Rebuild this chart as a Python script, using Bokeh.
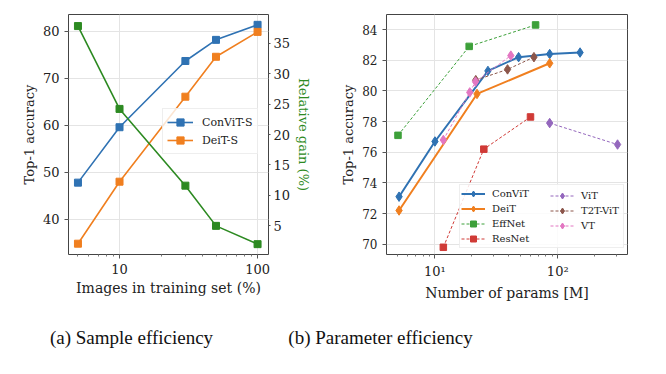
import math
from bokeh.plotting import figure
from bokeh.models import (Range1d, LinearAxis, Legend, LegendItem, SingleIntervalTicker,
                          FixedTicker, CustomJSTickFormatter, Label)
from bokeh.layouts import row, column
from bokeh.embed import file_html
from bokeh.resources import INLINE

# ---------------- data: (a) sample efficiency ----------------
train_frac = [5, 10, 30, 50, 100]
convit_s_acc = [47.8, 59.6, 73.7, 78.2, 81.4]
deit_s_acc = [34.8, 48.0, 66.1, 74.6, 79.9]
relative_gain = [37.8, 24.2, 11.6, 5.0, 2.0]

# ---------------- data: (b) parameter efficiency ----------------
convit_params = [5.1, 10, 27, 48, 86, 152]
convit_acc = [73.1, 76.7, 81.3, 82.2, 82.4, 82.5]
deit_params = [5.1, 22, 86]
deit_acc = [72.2, 79.8, 81.8]
effnet_params = [5.0, 19, 66]
effnet_acc = [77.1, 82.9, 84.3]
resnet_params = [11.7, 25, 60]
resnet_acc = [69.8, 76.2, 78.3]
vit_params = [86, 307]
vit_acc = [77.9, 76.5]
t2t_params = [21.5, 39, 64]
t2t_acc = [80.7, 81.4, 82.2]
vt_params = [11.7, 19.2, 21.4, 41.5]
vt_acc = [76.8, 79.9, 80.6, 82.3]

log_major_ticks = [10, 100]
captions = ["(a) Sample efficiency", "(b) Parameter efficiency"]

FONT = "'DejaVu Serif', serif"
CAP_FONT = "'Liberation Serif', serif"
BLUE = "#2f72b3"
ORANGE = "#f07f1f"
GREEN_DARK = "#2d8a22"
GREEN = "#3da03a"
RED = "#d03a36"
PURPLE = "#9467bd"
BROWN = "#8c564b"
PINK = "#e377c2"
FRAME = "#444444"
GRID = "#e4e4e4"

minor_ticks = [m * 10 ** k for k in range(0, 3) for m in range(2, 10)]


def style_axis(ax, label_size="13px", tick_size="13px"):
    ax.axis_label_text_font = FONT
    ax.axis_label_text_font_style = "normal"
    ax.axis_label_text_font_size = label_size
    ax.axis_label_text_color = "#222222"
    ax.major_label_text_font = FONT
    ax.major_label_text_font_size = tick_size
    ax.major_label_text_color = "#222222"
    ax.axis_line_color = None
    ax.major_tick_line_color = "#555555"
    ax.minor_tick_line_color = "#777777"
    ax.major_tick_in = 0
    ax.minor_tick_in = 0
    ax.major_tick_out = 4
    ax.minor_tick_out = 2
    ax.major_label_standoff = 5
    ax.axis_label_standoff = 3


def style_fig(p):
    p.outline_line_color = FRAME
    p.outline_line_width = 1
    p.xgrid.grid_line_color = GRID
    p.ygrid.grid_line_color = GRID
    p.background_fill_color = "white"
    p.border_fill_color = "white"


# ======================= (a) =======================
p1 = figure(width=338, height=318, x_axis_type="log",
            x_range=Range1d(4.27, 120), y_range=Range1d(32.5, 83.6),
            output_backend="svg", toolbar_location=None,
            min_border_left=68, min_border_right=70, min_border_top=14, min_border_bottom=61)
style_fig(p1)
p1.extra_y_ranges = {"gain": Range1d(0.3, 39.7)}

l_c = p1.line(train_frac, convit_s_acc, line_color=BLUE, line_width=1.6)
s_c = p1.scatter(train_frac, convit_s_acc, marker="square", size=7, fill_color=BLUE, line_color=BLUE)
l_d = p1.line(train_frac, deit_s_acc, line_color=ORANGE, line_width=1.6)
s_d = p1.scatter(train_frac, deit_s_acc, marker="square", size=7, fill_color=ORANGE, line_color=ORANGE)
p1.line(train_frac, relative_gain, line_color=GREEN_DARK, line_width=1.6, y_range_name="gain")
p1.scatter(train_frac, relative_gain, marker="square", size=7, fill_color=GREEN_DARK,
           line_color=GREEN_DARK, y_range_name="gain")

p1.xaxis.axis_label = "Images in training set (%)"
p1.yaxis.axis_label = "Top-1 accuracy"
p1.yaxis.ticker = SingleIntervalTicker(interval=10)
p1.xaxis.ticker = FixedTicker(ticks=log_major_ticks, minor_ticks=minor_ticks)
p1.xaxis.formatter = CustomJSTickFormatter(code="return tick.toFixed(0);")
style_axis(p1.yaxis[0])
style_axis(p1.xaxis[0], label_size="14px")
p1.yaxis.minor_tick_line_color = None

ax_r = LinearAxis(y_range_name="gain", axis_label="Relative gain (%)",
                  ticker=SingleIntervalTicker(interval=5))
style_axis(ax_r)
ax_r.minor_tick_line_color = None
ax_r.major_tick_out = 2
ax_r.major_label_standoff = 3
ax_r.axis_label_text_color = GREEN_DARK
p1.add_layout(ax_r, "right")

leg1 = Legend(items=[LegendItem(label="ConViT-S", renderers=[l_c, s_c]),
                     LegendItem(label="DeiT-S", renderers=[l_d, s_d])],
              location=(94, 100), padding=4, spacing=0, margin=0,
              label_height=18, glyph_height=18, glyph_width=26, label_standoff=9,
              label_text_font=FONT, label_text_font_size="11px", label_text_color="#222222",
              background_fill_color="white", background_fill_alpha=0.8,
              border_line_color="#dddddd", border_line_width=1)
p1.add_layout(leg1)

# ======================= (b) =======================
p2 = figure(width=320, height=318, x_axis_type="log",
            x_range=Range1d(4.03, 370), y_range=Range1d(69.33, 84.98),
            output_backend="svg", toolbar_location=None,
            min_border_left=47, min_border_right=31, min_border_top=14, min_border_bottom=64)
style_fig(p2)

DIA = dict(marker="diamond", size=9.5)
SQ = dict(marker="square", size=6.5)

r_conv = [p2.line(convit_params, convit_acc, line_color=BLUE, line_width=2),
          p2.scatter(convit_params, convit_acc, fill_color=BLUE, line_color=BLUE, **DIA)]
r_deit = [p2.line(deit_params, deit_acc, line_color=ORANGE, line_width=2),
          p2.scatter(deit_params, deit_acc, fill_color=ORANGE, line_color=ORANGE, **DIA)]
r_eff = [p2.line(effnet_params, effnet_acc, line_color=GREEN, line_width=1, line_dash="3 2"),
         p2.scatter(effnet_params, effnet_acc, fill_color=GREEN, line_color=GREEN, **SQ)]
r_res = [p2.line(resnet_params, resnet_acc, line_color=RED, line_width=1, line_dash="3 2"),
         p2.scatter(resnet_params, resnet_acc, fill_color=RED, line_color=RED, **SQ)]
r_vit = [p2.line(vit_params, vit_acc, line_color=PURPLE, line_width=1, line_dash="3 2"),
         p2.scatter(vit_params, vit_acc, fill_color=PURPLE, line_color=PURPLE, **DIA)]
r_t2t = [p2.line(t2t_params, t2t_acc, line_color=BROWN, line_width=1, line_dash="3 2"),
         p2.scatter(t2t_params, t2t_acc, fill_color=BROWN, line_color=BROWN, **DIA)]
r_vt = [p2.line(vt_params, vt_acc, line_color=PINK, line_width=1, line_dash="3 2"),
        p2.scatter(vt_params, vt_acc, fill_color=PINK, line_color=PINK, **DIA)]

p2.xaxis.axis_label = "Number of params [M]"
p2.yaxis.axis_label = "Top-1 accuracy"
p2.yaxis.ticker = SingleIntervalTicker(interval=2)
p2.xaxis.ticker = FixedTicker(ticks=log_major_ticks, minor_ticks=minor_ticks)
p2.xaxis.formatter = CustomJSTickFormatter(code="""
const e = Math.round(Math.log10(tick));
const sup = {"0": "\u2070", "1": "\u00b9", "2": "\u00b2", "3": "\u00b3"};
return "10" + sup[String(e)];
""")
style_axis(p2.yaxis[0], tick_size="12px")
style_axis(p2.xaxis[0], label_size="14px")
p2.yaxis.minor_tick_line_color = None

PAD = 1
ROW_H = 15
SP = 0
common = dict(padding=PAD, spacing=SP, margin=0, label_height=ROW_H, glyph_height=ROW_H,
              glyph_width=24, label_standoff=7, label_text_font=FONT,
              label_text_font_size="10px", label_text_color="#222222")
legA = Legend(items=[LegendItem(label="ConViT", renderers=r_conv),
                     LegendItem(label="DeiT", renderers=r_deit),
                     LegendItem(label="EffNet", renderers=r_eff),
                     LegendItem(label="ResNet", renderers=r_res)],
              location=(73, 6), label_width=130,
              background_fill_color="white", background_fill_alpha=0.85,
              border_line_color="#dddddd", border_line_width=1, **common)
legB = Legend(items=[LegendItem(label="ViT", renderers=r_vit),
                     LegendItem(label="T2T-ViT", renderers=r_t2t),
                     LegendItem(label="VT", renderers=r_vt)],
              location=(164, 6 + ROW_H + SP),
              background_fill_alpha=0, border_line_color=None, **common)
p2.add_layout(legA)
p2.add_layout(legB)

# ======================= captions =======================
pc = figure(width=658, height=48, x_range=Range1d(0, 658), y_range=Range1d(0, 48),
            output_backend="svg", toolbar_location=None,
            x_axis_location=None, y_axis_location=None, min_border=0)
pc.outline_line_color = None
pc.xgrid.visible = False
pc.ygrid.visible = False
for txt, cx in zip(captions, [131, 380]):
    pc.add_layout(Label(x=cx, y=29, text=txt, text_align="center", text_baseline="middle",
                        text_font=CAP_FONT, text_font_size="19px", text_color="#111111"))

layout = column(row(p1, p2), pc)
open("out.html", "w").write(file_html(layout, INLINE))
